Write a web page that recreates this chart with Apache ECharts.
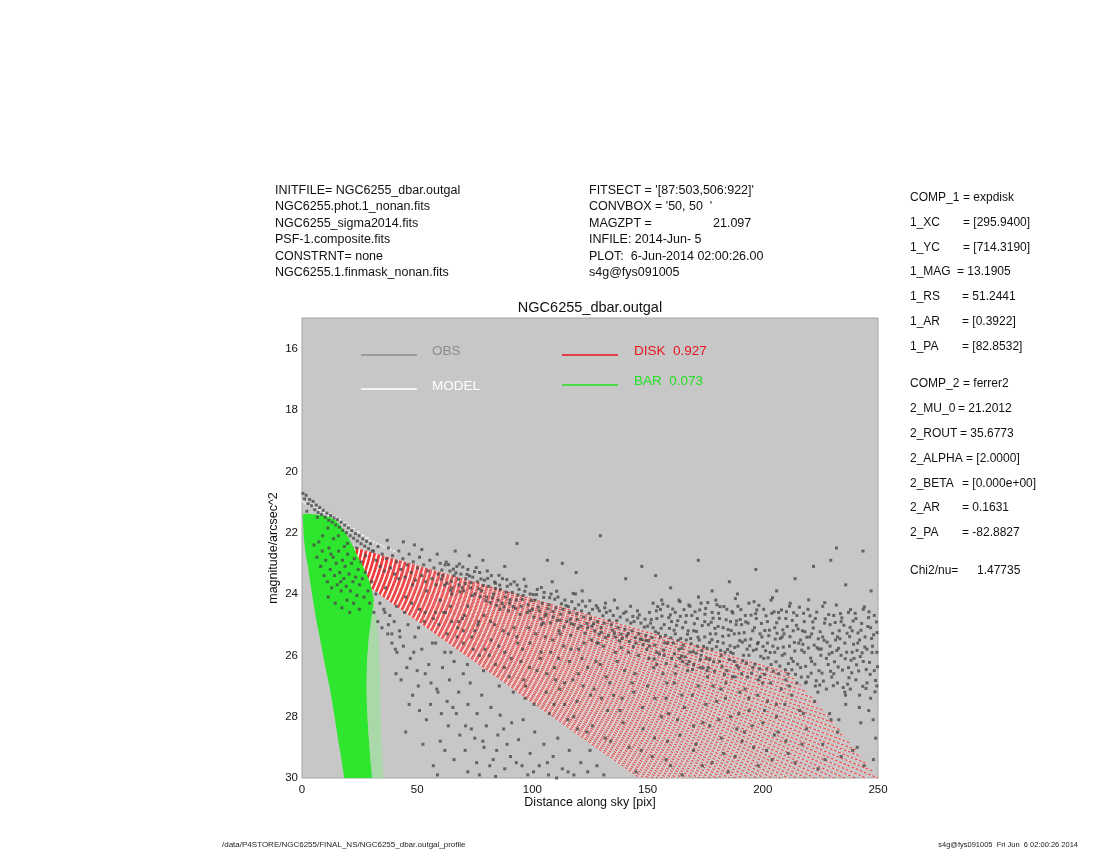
<!DOCTYPE html>
<html><head><meta charset="utf-8">
<script src="https://cdn.jsdelivr.net/npm/echarts@6/dist/echarts.min.js"></script>
<style>html,body{margin:0;padding:0;background:#fff}#c{width:1100px;height:850px}</style>
</head><body><div id="c"></div>
<script>
// ---------- tick labels ----------
const xTicks=[0,50,100,150,200,250];
const yTicks=[16,18,20,22,24,26,28,30];

// ---------- header / parameter texts ----------
const headerLeft=["INITFILE= NGC6255_dbar.outgal","NGC6255.phot.1_nonan.fits","NGC6255_sigma2014.fits","PSF-1.composite.fits","CONSTRNT= none","NGC6255.1.finmask_nonan.fits"];
const headerMid=["FITSECT = '[87:503,506:922]'","CONVBOX = '50, 50  '","MAGZPT =","INFILE: 2014-Jun- 5","PLOT:  6-Jun-2014 02:00:26.00","s4g@fys091005"];
const magzpt="21.097";
const paramKeys=["COMP_1","1_XC","1_YC","1_MAG","1_RS","1_AR","1_PA","COMP_2","2_MU_0","2_ROUT","2_ALPHA","2_BETA","2_AR","2_PA","Chi2/nu="];
const paramVals=["= expdisk","= [295.9400]","= [714.3190]","= 13.1905","= 51.2441","= [0.3922]","= [82.8532]","= ferrer2","= 21.2012","= 35.6773","= [2.0000]","= [0.000e+00]","= 0.1631","= -82.8827","1.47735"];
const legendNames=["OBS","MODEL","DISK  0.927","BAR  0.073"];

// ---------- data: observed profile points [distance, mag] ----------
const obs=[
[0.4,20.72],[1.1,20.9],[1.8,20.78],[2.6,21.05],[3.3,20.92],[4.1,21.12],[4.8,20.98],[5.5,21.25],[6.2,21.1],[7.0,21.34],[7.7,21.18],[8.5,21.41],[9.2,21.27],[10.1,21.5],[10.8,21.36],[11.6,21.6],[12.4,21.44],[13.1,21.66],[13.9,21.52],[14.6,21.75],[15.4,21.58],[16.2,21.82],[17.0,21.66],[17.7,21.92],[18.5,21.75],[19.3,22.0],[20.1,21.84],[20.9,22.1],[21.6,21.93],[22.4,22.18],[23.2,22.03],[24.0,22.27],[24.8,22.1],[25.6,22.36],[26.4,22.2],[27.2,22.44],[28.0,22.28],[28.9,22.52],[29.7,22.36],[30.5,22.6],[2.1,21.3],[6.7,21.5],[11.2,21.85],[15.8,22.1],[19.8,22.35],[23.7,22.5],[27.6,22.75],
[5.2,22.4],[6.5,22.8],[7.3,22.3],[8.1,23.1],[8.8,22.6],[9.6,23.4],[10.3,22.9],[11.0,23.6],[11.7,22.5],[12.3,23.2],[12.9,23.8],[13.5,22.8],[14.1,23.4],[14.8,23.0],[15.3,23.7],[15.9,22.6],[16.4,23.3],[17.0,23.9],[17.6,22.9],[18.1,23.5],[18.7,23.1],[19.2,23.75],[19.8,22.7],[20.4,23.35],[21.0,23.9],[21.5,23.0],[22.1,23.6],[22.7,22.85],[23.3,23.45],[23.8,24.05],[24.4,23.2],[25.0,23.7],[25.6,22.95],[26.2,23.5],[26.9,24.1],[27.5,23.3],[11.4,24.1],[14.4,24.3],[17.3,24.45],[20.7,24.6],[9.0,22.1],[13.7,22.2],[16.8,23.6],[19.5,24.2],[22.4,24.3],[24.9,24.5],[12.6,22.7],[18.4,22.45],
[28.6,23.9],[29.4,24.3],[30.3,23.6],[31.2,24.6],[32.0,24.0],[32.9,24.9],[33.8,24.3],[34.7,25.1],[35.5,24.5],[36.3,23.8],[37.2,25.3],[38.1,24.7],[39.0,25.6],[40.0,24.9],[41.2,25.9],[42.3,25.2],
[31.0,22.6],[32.1,22.9],[33.0,22.45],[33.9,23.1],[34.8,22.7],[35.7,23.25],[36.6,22.85],[37.5,22.5],[38.4,23.15],[39.3,22.75],[40.2,23.35],[41.1,22.95],[42.0,22.6],[42.9,23.2],[43.8,22.85],[44.7,23.45],[45.6,23.05],[46.5,22.7],[47.4,23.3],[48.3,22.95],[49.2,23.55],[50.1,23.15],[51.0,22.8],[51.9,23.4],[52.8,23.05],[53.7,23.6],[54.6,23.25],[55.5,22.9],[56.4,23.5],[57.3,23.15],[58.2,23.7],[59.1,23.35],[60.0,23.0],[37.0,22.25],[44.0,22.3],[52.0,22.55],[58.7,22.7],[48.8,22.4],
[61.0,23.4],[62.1,23.05],[63.0,23.65],[64.2,23.25],[65.1,23.8],[66.0,23.4],[67.2,23.1],[68.1,23.7],[69.0,23.35],[70.2,23.9],[71.1,23.5],[72.0,23.2],[73.2,23.8],[74.1,23.45],[75.0,24.0],[76.2,23.6],[77.1,23.3],[78.0,23.9],[79.2,23.55],[80.1,24.1],[81.0,23.75],[82.2,23.4],[83.1,24.0],[84.0,23.65],[85.2,24.2],[86.1,23.85],[87.0,23.5],[88.2,24.1],[89.1,23.75],[90.0,24.3],[91.2,23.95],[92.1,23.6],[93.0,24.2],[94.2,23.85],[95.1,24.4],[96.0,24.05],[97.2,23.75],[98.1,24.35],[99.0,24.0],[100.0,24.5],
[60.7,23.22],[61.9,23.71],[63.6,23.04],[64.8,23.58],[65.7,23.19],[67.9,23.52],[68.6,23.93],[69.8,23.12],[70.9,23.66],[72.7,23.41],[73.8,24.05],[74.9,23.27],[76.8,23.83],[77.7,23.51],[79.8,24.22],[80.6,23.49],[81.7,24.28],[83.6,23.61],[84.5,24.37],[85.8,23.71],[87.6,24.42],[88.7,23.94],[89.7,24.55],[90.6,23.68],[92.7,24.47],[93.8,24.03],[94.6,24.66],[96.7,23.91],[97.8,24.61],[99.6,24.21],
[60.4,23.51],[62.6,22.96],[64.5,23.88],[66.8,23.31],[68.3,23.02],[69.5,23.79],[71.6,23.36],[73.4,23.63],[75.6,23.14],[77.4,24.09],[78.7,23.72],[80.4,23.25],[82.6,24.12],[83.9,23.82],[85.5,23.39],[86.9,24.31],[88.9,23.53],[90.3,24.19],[91.6,24.41],[93.4,23.71],[95.6,24.18],[96.4,23.52],[98.7,24.55],
[66.5,22.6],[78.5,22.9],[93.3,22.35],[88.0,23.1],[72.6,22.75],
[101.2,24.2],[102.1,23.85],[103.0,24.55],[104.2,24.3],[105.1,23.95],[106.0,24.65],[107.2,24.35],[108.1,24.0],[109.0,24.75],[110.2,24.45],[111.1,24.1],[112.0,24.85],[113.2,24.5],[114.1,24.2],[115.0,24.9],[116.2,24.6],[117.1,24.25],[118.0,25.0],[119.2,24.65],[120.1,24.35],[121.0,25.05],[122.2,24.75],[123.1,24.4],[124.0,25.1],[125.2,24.8],[126.1,24.5],[127.0,25.2],[128.2,24.9],[129.1,24.55],[130.0,25.25],[131.2,24.95],[132.1,24.6],[133.0,25.35],[134.2,25.0],[135.1,24.7],[136.0,25.4],[137.2,25.1],[138.1,24.75],[139.0,25.45],[140.2,25.15],[141.1,24.85],[142.0,25.55],[143.2,25.2],[144.1,24.9],[145.0,25.6],[146.2,25.3],[147.1,24.95],[148.0,25.65],[149.2,25.35],[150.0,25.05],
[100.6,24.75],[101.8,24.02],[103.6,24.81],[104.9,24.11],[106.7,24.48],[107.8,24.94],[109.7,24.17],[110.8,24.86],[112.6,24.32],[113.7,25.07],[115.6,24.41],[116.9,24.97],[118.5,24.48],[119.8,25.12],[121.7,24.23],[122.8,25.28],[124.6,24.63],[125.8,25.05],[127.7,24.38],[128.9,25.31],[130.6,24.71],[131.8,25.42],[133.7,24.55],[134.8,25.18],[136.6,24.87],[137.8,25.53],[139.6,24.63],[140.9,25.36],[142.7,24.95],[143.8,25.72],[145.7,24.78],[146.8,25.47],[148.6,25.08],[149.7,25.81],
[100.4,24.02],[102.6,24.43],[103.9,23.79],[105.6,24.71],[107.5,24.12],[108.9,24.57],[110.5,23.91],[112.3,24.66],[114.6,24.38],[116.4,24.82],[117.7,23.98],[119.5,24.83],[121.3,24.55],[123.6,24.96],[124.9,24.22],[126.6,24.97],[128.4,24.46],[129.8,25.09],[131.4,24.45],[133.4,24.86],[135.6,25.28],[136.9,24.46],[138.4,25.31],[140.6,24.58],[141.6,25.29],[143.6,24.73],[144.6,25.42],[146.4,24.68],[147.6,25.49],[148.9,24.82],[149.4,25.52],
[104.8,24.95],[111.6,25.2],[118.7,24.0],[125.6,25.5],[131.7,24.3],[138.6,25.75],[145.6,24.55],[108.6,23.6],[121.6,23.9],[135.6,24.2],[142.6,24.4],[116.6,25.35],[128.6,25.6],
[106.5,22.9],[119,23.3],[129.5,22.1],[140.5,23.5],[147.5,23.1],[113,23.0],
[150.8,24.6],[150.8,25.7],[152.4,25.1],[152.4,24.3],[154.0,25.9],[154.0,24.8],[155.6,24.5],[155.6,25.4],[157.2,26.0],[157.2,25.0],[158.8,24.4],[158.8,25.6],[160.4,24.9],[160.4,26.1],[162.0,25.3],[162.0,24.6],[163.6,25.8],[163.6,24.2],[165.2,26.2],[165.2,25.1],[166.8,24.7],[166.8,25.5],[168.4,25.9],[168.4,24.4],[170.0,25.2],[170.0,26.3],[171.6,24.8],[171.6,25.7],[173.2,24.3],[173.2,26.0],[174.8,25.4],[174.8,24.9],[176.4,26.4],[176.4,25.0],[178.0,24.6],[178.0,25.8],[179.6,25.3],[179.6,24.2],[181.2,26.2],[181.2,24.8],[182.8,25.6],[182.8,25.1],[184.4,24.5],[184.4,26.5],[186.0,25.9],[186.0,24.9],[187.6,25.3],[187.6,26.2],[189.2,24.4],[189.2,25.7],[190.8,26.6],[190.8,25.0],[192.4,24.7],[192.4,25.5],[194.0,26.0],[194.0,24.3],[195.6,25.2],[195.6,26.4],[197.2,24.8],[197.2,25.8],[198.8,26.7],[198.8,25.3],[200.4,24.5],[200.4,26.1],[202.0,25.6],[202.0,24.9],[203.6,26.3],[203.6,24.2],[205.2,25.1],[205.2,25.9],[206.8,26.6],[206.8,24.6],[208.4,25.4],[208.4,26.0],[210.0,24.8],[210.0,26.8],[211.6,25.7],[211.6,24.4],[213.2,26.2],[213.2,25.2],[214.8,24.7],[214.8,26.9],[216.4,25.5],[216.4,26.4],[218.0,24.9],[218.0,25.9],[219.6,26.7],[219.6,24.5],[221.2,25.3],[221.2,26.2],[222.8,24.8],[222.8,27.0],[224.4,25.8],[224.4,26.5],[226.0,24.4],[226.0,25.4],[227.6,26.1],[227.6,27.1],[229.2,25.0],[229.2,25.7],[230.8,26.6],[230.8,24.7],[232.4,25.4],[232.4,26.9],[234.0,24.9],[234.0,26.0],[235.6,27.2],[235.6,25.6],[237.2,24.6],[237.2,26.4],[238.8,25.9],[238.8,25.2],[240.4,26.8],[240.4,24.8],[242.0,25.5],[242.0,27.3],[243.6,24.5],[243.6,26.2],[245.2,25.8],[245.2,26.9],[246.8,27.4],[246.8,25.1],[248.4,24.7],[248.4,26.5],[249.5,25.9],[249.5,27.0],
[161.2,25.6],[167.6,25.2],[172.4,25.5],[177.2,25.3],[183.6,25.9],[188.4,25.0],[193.2,25.8],[199.6,25.4],[204.4,25.7],[209.2,25.3],[215.6,25.6],[220.4,25.4],[225.2,26.0],[231.6,25.5],[236.4,25.9],[241.2,25.6],[247.6,25.7],
[164.4,25.45],[169.2,24.7],[175.6,26.1],[180.4,25.55],[185.2,25.35],[191.6,26.0],[196.4,25.1],[201.2,25.85],[207.6,25.45],[212.4,26.1],[217.2,25.2],[223.6,25.75],[228.4,26.3],[233.2,25.2],[239.6,26.1],[244.4,25.4],
[151.3,24.95],[151.9,25.42],[153.1,25.67],[153.8,24.55],[154.7,25.28],[156.2,24.72],[156.9,25.83],[157.8,25.35],[159.5,25.12],[159.9,24.68],[161.7,25.95],[162.6,25.02],[163.1,24.87],[164.9,25.77],[165.8,24.51],[166.2,26.05],[167.3,25.31],[168.9,25.62],[169.7,25.88],[170.6,24.58],[171.2,25.22],[172.9,26.14],[173.7,25.03],[174.3,25.71],[175.2,24.47],[176.9,25.58],[177.6,24.92],[178.7,26.21],[179.2,25.12],[180.8,24.63],[181.7,25.84],[182.3,26.37],[183.1,24.41],[184.9,25.16],[185.8,25.69],[186.6,24.57],[187.1,25.94],[188.8,26.33],[189.7,25.28],[190.2,24.83],[191.1,25.57],[192.9,26.26],[193.6,24.95],[194.8,25.47],[195.1,26.58],[196.9,24.64],[197.7,25.62],[198.3,24.37],[199.1,26.03],[200.9,25.19],[201.7,26.44],[202.6,25.36],[203.2,25.91],[204.9,24.58],[205.7,26.21],[206.2,25.28],[207.1,24.79],[208.9,25.73],[209.8,26.47],[210.6,25.06],[211.1,26.27],[212.8,24.86],[213.7,25.58],[214.2,26.62],[215.3,25.14],[216.9,25.83],[217.7,24.63],[218.6,26.36],[219.1,25.41],[220.8,26.09],[221.7,24.91],[222.3,25.67],[223.2,26.83],[224.9,25.23],[225.7,26.58],[226.6,25.51],[227.1,24.81],[228.8,25.96],[229.9,26.71],[230.3,25.28],[231.1,26.21],[232.9,25.77],[233.7,24.64],[234.6,26.48],[235.2,25.02],[236.8,26.94],[237.7,25.39],[238.3,26.16],[239.2,24.88],[240.9,25.84],[241.6,26.51],[242.6,25.18],[243.1,25.92],[244.8,27.08],[245.9,24.77],[246.3,26.23],[247.2,25.45],[248.9,26.82],[249.6,25.26],[244.1,24.42],[238.1,24.51],[231.9,24.36],[226.9,24.28],[219.9,24.19],[211.9,24.3],[204.2,24.12],[196.2,24.25],[188.1,24.15],[180.1,24.35],[172.1,24.1],[164.1,24.25],[156.1,24.2],
[150.3,25.52],[151.6,24.83],[152.9,26.12],[153.4,25.23],[154.4,24.41],[155.1,25.96],[155.9,25.12],[156.6,24.33],[157.5,25.59],[158.1,26.27],[159.2,24.77],[160.1,25.43],[160.9,24.49],[161.5,25.18],[162.3,26.35],[163.3,25.51],[164.2,24.73],[164.7,26.02],[165.5,25.66],[166.5,24.92],[167.1,26.29],[167.9,24.36],[168.7,25.45],[169.5,26.46],[170.3,24.97],[171.0,25.93],[171.9,25.41],[172.6,24.52],[173.5,25.84],[174.1,26.41],[174.9,24.66],[175.8,25.77],[176.1,24.28],[177.0,26.13],[177.9,25.49],[178.4,24.79],[179.0,26.52],[179.9,25.72],[180.6,25.06],[181.4,24.41],[182.0,26.01],[182.6,25.38],[183.4,26.63],[184.1,24.84],[184.7,25.81],[185.5,26.14],[186.3,25.19],[187.0,24.62],[187.8,25.74],[188.6,24.88],[189.4,26.41],[190.0,25.52],[190.5,24.51],[191.3,26.18],[191.9,25.26],[192.6,24.91],[193.4,26.71],[194.3,25.69],[194.9,24.69],[195.9,25.84],[196.6,26.29],[197.4,24.52],[198.0,25.58],[198.6,26.44],[199.4,24.96],[200.1,25.71],[200.7,26.62],[201.4,24.71],[202.3,26.08],[202.9,25.18],[203.9,24.63],[204.6,26.52],[205.4,25.47],[206.0,24.94],[206.5,25.77],[207.4,26.35],[208.1,24.52],[208.7,25.17],[209.5,25.95],[210.3,24.58],[210.9,26.61],[211.8,25.39],[212.6,26.47],[213.4,24.61],[213.9,25.86],[214.6,25.02],[215.1,26.29],[215.9,24.43],[216.7,26.71],[217.4,25.64],[218.3,25.23],[218.9,26.87],[219.8,25.76],[220.5,24.71],[221.0,26.58],[221.9,25.11],[222.6,26.29],[223.4,24.59],[224.1,25.46],[224.7,26.97],[225.4,25.79],[226.3,26.84],[226.8,24.95],[227.9,25.57],[228.6,24.67],[229.4,26.52],[230.1,25.91],[230.6,26.99],[231.4,24.93],[232.1,25.84],[232.7,26.38],[233.5,25.46],[234.3,24.78],[234.9,27.05],[235.8,26.11],[236.6,25.28],[237.4,26.73],[237.9,25.09],[238.6,26.57],[239.4,25.64],[240.1,24.63],[240.7,26.31],[241.3,25.27],[242.3,26.04],[242.9,24.96],[243.4,27.01],[244.3,25.73],[244.9,26.46],[245.6,25.06],[246.1,24.58],[246.6,26.62],[247.4,25.91],[248.1,25.33],[248.7,27.19],[249.3,24.91],[249.8,26.37],
[152.6,26.4],[158.3,26.9],[163.9,26.1],[169.4,27.3],[175.9,26.5],[181.9,27.1],[187.9,26.7],[193.9,27.4],[199.9,26.9],[205.9,27.6],[211.4,27.0],[217.6,27.9],[223.9,27.2],[229.6,28.1],[235.9,27.3],[241.9,27.7],[247.9,28.1],
[153.5,23.4],[160,23.8],[172,22.9],[185.5,23.6],[197,23.2],[206,23.9],[214,23.5],[222,23.1],[229.5,22.9],[236,23.7],[243.5,22.6],[247,23.9],[232,22.5],[189,24.0],[178,23.9],
[212.5,27.3],[216,27.8],[219,28.4],[222.5,27.5],[226,28.9],[229,27.9],[232.5,28.5],[236,27.6],[239,29.1],[242.5,28.2],[246,27.8],[249,28.7],[214,29.5],[224,29.7],[234,29.3],[244,29.6],[218.5,26.9],[238,27.1],
[42,23.5],[45,24.1],[48,23.7],[51,24.5],[54,23.9],[57,24.8],[60,24.2],[63,25.3],[65,24.0],[68,24.9],[70,25.6],[72,24.4],[75,25.2],[77,26.0],[79,24.7],[82,25.5],[84,26.3],[86,24.5],[88,25.9],[90,26.7],[92,25.1],[95,26.2],[97,27.0],[99,25.6],[102,26.5],[104,25.0],[106,27.2],[108,25.9],[110,26.8],[112,25.3],[114,27.6],[116,26.2],[118,28.0],[120,25.8],[122,27.0],[124,26.4],[126,28.3],[128,25.6],[130,27.4],[132,26.7],[134,28.8],[136,25.9],[138,27.8],[140,26.5],[142,29.0],[144,27.2],[146,26.0],[148,28.4],[150,27.0],[152,29.3],[154,26.3],[156,28.0],[158,27.4],[160,29.6],[162,26.6],[164,28.6],[166,27.7],[168,26.2],[170,29.1],[172,27.0],[174,28.2],[176,26.7],[178,29.5],[180,27.5],[182,28.7],[184,26.9],[186,28.0],[188,29.3],[190,27.2],[192,28.5],[194,27.8],[196,29.0],[198,26.8],[200,28.2],[202,27.5],[204,29.4],[206,28.0],[208,27.1],[210,28.8],[185,29.8],[165,29.9],[145,29.8],[125,29.1],
[44.5,24.6],[47.6,24.3],[50.6,25.1],[53.4,24.6],[56.6,25.6],[59.4,25.0],[62.3,24.6],[64.6,25.9],[67.3,25.4],[69.6,24.8],[71.8,26.3],[74.3,25.8],[76.6,24.9],[78.8,26.5],[81.3,26.0],[83.7,25.0],[85.6,27.0],[87.8,26.4],[89.5,25.3],[91.7,27.2],[93.6,25.6],[96.3,26.8],[98.4,25.1],[100.7,27.6],[103.4,26.1],[105.6,25.4],[107.4,27.9],[109.6,26.4],[111.8,27.1],[113.6,25.7],[115.4,28.1],[117.6,26.8],[119.4,27.5],[121.5,26.1],[123.7,28.5],[126.8,27.1],[129.5,26.3],[131.6,28.7],[135.2,27.3],[139.4,28.2],[143.3,26.9],[147.2,29.1],
[61.5,24.6],[64.4,24.4],[67.6,25.1],[70.6,24.7],[73.6,25.4],[76.3,25.0],[79.4,25.8],[81.9,24.9],[85.4,25.7],[87.3,25.2],[90.8,26.1],[93.2,25.4],[95.8,25.8],[98.8,26.4],[101.4,25.3],[103.8,25.9],[106.3,26.6],[108.8,25.5],[111.4,26.1],[113.9,26.9],[116.8,25.8],[119.9,26.6],[122.5,25.6],[125.3,27.3],[127.6,26.2],[130.8,25.7],[133.6,26.9],[136.8,26.2],[138.9,27.4],[141.7,25.9],[144.6,26.6],[147.7,27.7],[150.6,26.1],[153.2,27.4],[156.7,26.6],[159.1,27.9],[161.6,26.9],[164.8,27.3],[167.4,26.5],[169.9,28.3],[172.8,26.4],[175.3,27.6],[178.4,27.0],[180.9,28.1],[183.8,27.4],[186.8,26.7],[189.6,27.9],[192.3,27.1],[195.3,28.3],[197.8,27.3],[200.8,27.8],[203.4,26.9],[206.6,28.5],[209.6,27.6],[158.7,28.8],[173.8,29.6],[188.7,28.4],[201.6,29.1],[132.7,27.8],[119.6,28.4],[109.4,27.6],[96.8,27.4],
[153,28.7],[158,29.4],[163,28.1],[171,28.9],[177,28.3],[183,29.2],[191,28.8],[198,29.6],[205,28.6],[211,29.2],[217,28.9],[227,29.4],[233,28.1],[241,29.0],[248,29.4],
[36,24.6],[39,25.3],[41,24.4],[44,25.7],[46,25.0],[47,26.1],[49,25.4],[50,26.5],[52,25.8],[53,24.9],[55,26.3],[56,26.9],[58,25.6],[59,27.2],[61,26.4],[62,25.9],[63,27.5],[64,26.8],[66,26.2],[67,27.9],[68,27.2],[70,26.6],[71,28.3],[72,27.6],[73,26.9],[75,28.7],[76,27.9],[78,27.3],[79,29.0],[80,28.3],[82,27.7],[83,29.4],[85,28.6],[86,27.95],[88,29.7],[89,28.9],[91,28.2],[93,29.5],[94,28.75],[96,28.1],[98,29.9],[99,29.2],[101,28.5],[103,29.6],[105,28.9],[107,29.9],[109,29.3],[111,28.7],[113,29.7],[116,29.1],[118,29.9],[121,29.5],[124,29.8],[128,29.6],[131,29.9],[48,27.3],[54,28.1],[60,28.8],[66,29.4],[72,29.8],[57,29.6],[43,26.8],[51,27.8],[62,29.1],[77,29.9],[84,29.95],[45,28.5],[70,25.2],[65,24.9],[58,24.6],
[37.5,25.0],[40.5,25.8],[42.5,25.4],[45.5,26.4],[48.5,25.9],[50.5,27.0],[53.5,26.6],[55.8,27.6],[58.5,27.1],[60.5,27.9],[63.5,28.3],[65.5,27.7],[68.5,28.6],[70.8,29.1],[73.5,28.4],[75.8,29.5],[78.5,28.8],[81.5,29.6],[84.5,29.1],[87.5,28.4],[90.5,29.3],[95.5,29.6],[100.5,29.8],[106.5,29.5],[110.5,30.0],[115.5,29.8],[52.5,28.9],[46.5,27.6],[58.8,29.9],[40.8,26.6]
];

// ---------- model points near the centre [distance, mag] ----------
const modelCore=[[0.5,20.98],[1.5,21.05],[2.5,21.0],[3.5,21.12],[4.5,21.08],[5.5,21.2],[6.5,21.15],[7.5,21.28],[8.5,21.24],[9.5,21.36],[10.5,21.32],[11.5,21.45],[12.5,21.4],[13.5,21.52],[14.5,21.5],[15.5,21.62],[16.5,21.58],[17.5,21.7],[18.5,21.68],[19.5,21.8],[20.5,21.78],[21.5,21.9],[22.5,21.88],[23.5,22.0],[24.5,21.98],[25.5,22.1],[26.5,22.08],[27.5,22.18],[28.5,22.17],[29.5,22.26],[31,22.3],[32.5,22.36],[34,22.4],[35.5,22.46],[37,22.5],[38.5,22.55],[40,22.6],[41.5,22.64]];

// ---------- disk component profile tracks [r0, mag0, r1, mag1] ----------
const diskTracks=[
[4,22.087,212.0,26.60],[4,22.093,214.4,26.79],[4,22.100,216.7,26.98],[4,22.107,219.1,27.18],[4,22.114,221.5,27.38],[4,22.120,223.8,27.58],[4,22.127,226.2,27.79],[4,22.133,228.6,27.99],[4,22.141,230.9,28.20],[4,22.147,233.3,28.42],
[4,22.154,235.6,28.63],[4,22.160,238.0,28.86],[4,22.167,240.4,29.08],[4,22.174,242.7,29.30],[4,22.181,245.1,29.53],[4,22.187,247.5,29.77],[4,22.194,249.9,30.0],[4,22.201,244.9,30.0],[4,22.208,240.1,30.0],[4,22.215,235.5,30.0],
[4,22.221,231.1,30.0],[4,22.228,226.8,30.0],[4,22.234,222.6,30.0],[4,22.242,218.7,30.0],[4,22.248,214.8,30.0],[4,22.255,211.1,30.0],[4,22.261,207.5,30.0],[4,22.268,204.0,30.0],[4,22.275,200.7,30.0],[4,22.282,197.4,30.0],
[4,22.288,194.2,30.0],[4,22.295,191.2,30.0],[4,22.301,188.2,30.0],[4,22.309,185.3,30.0],[4,22.315,182.5,30.0],[4,22.322,179.8,30.0],[4,22.328,177.1,30.0],[4,22.335,174.6,30.0],[4,22.342,172.1,30.0],[4,22.349,169.6,30.0],
[4,22.355,167.3,30.0],[4,22.362,165.0,30.0],[4,22.368,162.7,30.0],[4,22.376,160.6,30.0],[4,22.382,158.4,30.0],[4,22.389,156.3,30.0],[4,22.395,154.3,30.0],[4,22.402,152.3,30.0],[4,22.409,150.4,30.0],[4,22.416,148.5,30.0],[4,22.422,146.7,30.0]
];
// total model equals the disk outside the bar region
const modelTracks=diskTracks;

// ---------- bar component envelope [distance, mag] ----------
const barEnvelope=[[0.3,21.4],[0.8,22.2],[1.6,22.7],[2.6,23.12],[3.6,23.65],[4.8,24.2],[6.2,24.85],[7.9,25.5],[9.9,26.3],[12.0,27.05],[13.7,27.8],[15.3,28.57],[17.0,29.35],[18.5,30.1],
[30.5,30.1],[29.6,29.3],[28.8,28.5],[28.2,27.7],[28.0,27.0],[28.2,26.2],[29.0,25.4],[30.5,24.6],[31.2,24.2],[30.0,23.75],[28.6,23.45],[26.5,23.1],[24.3,22.79],[22.2,22.45],[20.0,22.14],[17.5,21.85],[15.0,21.62],[12.5,21.5],[9.0,21.43],[5.0,21.4],[2.0,21.38]];
const barFringe=[[31.2,24.2],[32.5,24.8],[33.3,25.6],[33.8,26.5],[34.0,27.5],[34.3,28.5],[34.8,29.3],[35.3,30.1],[30.5,30.1],[29.6,29.3],[28.8,28.5],[28.2,27.7],[28.0,27.0],[28.2,26.2],[29.0,25.4],[30.5,24.6]];

// ---------- chart ----------
const FONT="'Liberation Sans', Arial, Helvetica, sans-serif";
const chart=echarts.init(document.getElementById('c'),null,{renderer:'canvas'});

function polySeries(pts,fill,opacity){
  return {type:'custom',coordinateSystem:'cartesian2d',silent:true,clip:true,data:[[pts[0][0],pts[0][1]]],
    renderItem:function(params,api){
      return {type:'polygon',shape:{points:pts.map(p=>api.coord(p))},style:{fill:fill,opacity:opacity}};
    }};
}
function trackSeries(tracks,lineStyle){
  return {type:'lines',coordinateSystem:'cartesian2d',silent:true,
    data:tracks.map(t=>({coords:[[t[0],t[1]],[t[2],t[3]]]})),
    lineStyle:lineStyle};
}

const graphics=[];
headerLeft.forEach((s,i)=>graphics.push({type:'text',left:275,top:184+i*16.4,style:{text:s,font:'12.5px '+FONT,fill:'#111'}}));
headerMid.forEach((s,i)=>graphics.push({type:'text',left:589,top:184+i*16.4,style:{text:s,font:'12.5px '+FONT,fill:'#111'}}));
graphics.push({type:'text',left:713,top:184+2*16.4,style:{text:magzpt,font:'12.5px '+FONT,fill:'#111'}});
const rowY=[199,224,249,273,298,323,348,385,410,435,460,485,509,534,572];
const valX=[963,963,963,957,962,962,962,963,958,960,966,962,962,962,977];
paramKeys.forEach((s,i)=>{
  graphics.push({type:'text',left:910,top:rowY[i]-7,style:{text:s,font:'12px '+FONT,fill:'#111'}});
  graphics.push({type:'text',left:valX[i],top:rowY[i]-7,style:{text:paramVals[i],font:'12px '+FONT,fill:'#111'}});
});
graphics.push({type:'text',x:590,y:308,style:{text:'NGC6255_dbar.outgal',font:'14.5px '+FONT,fill:'#111',align:'center',verticalAlign:'middle'}});
const legColors=['#8c8c8c','#ffffff','#e8141e','#22e022'];
const legLineX=[361,361,562,562], legLineY=[355,389,355,385], legTextX=[432,432,634,634], legTextY=[351,386,351,381];
legendNames.forEach((s,i)=>{
  graphics.push({type:'line',shape:{x1:legLineX[i],y1:legLineY[i],x2:legLineX[i]+56,y2:legLineY[i]},style:{stroke:legColors[i],lineWidth:1.6},z:100});
  graphics.push({type:'text',x:legTextX[i],y:legTextY[i],style:{text:s,font:'13.5px '+FONT,fill:legColors[i],verticalAlign:'middle'},z:100});
});
graphics.push({type:'text',x:222,y:845,style:{text:'/data/P4STORE/NGC6255/FINAL_NS/NGC6255_dbar.outgal_profile',font:'8px '+FONT,fill:'#222',verticalAlign:'middle'}});
graphics.push({type:'text',x:1078,y:845,style:{text:'s4g@fys091005  Fri Jun  6 02:00:26 2014',font:'7.5px '+FONT,fill:'#222',align:'right',verticalAlign:'middle'}});

chart.setOption({
  animation:false,
  backgroundColor:'#ffffff',
  grid:{left:302,top:318,width:576,height:460,show:true,backgroundColor:'#c7c7c7',borderColor:'#a4a4a4',borderWidth:1},
  xAxis:{type:'value',min:0,max:250,
    axisLine:{show:false},axisTick:{show:false},splitLine:{show:false},
    axisLabel:{customValues:xTicks,color:'#111',fontSize:11.5,fontFamily:FONT,margin:6},
    name:'Distance along sky [pix]',nameLocation:'middle',nameGap:18,nameMoveOverlap:false,
    nameTextStyle:{color:'#111',fontSize:12.5,fontFamily:FONT}},
  yAxis:{type:'value',min:15,max:30,inverse:true,
    axisLine:{show:false},axisTick:{show:false},splitLine:{show:false},
    axisLabel:{customValues:yTicks,color:'#111',fontSize:11.5,fontFamily:FONT,margin:4},
    name:'magnitude/arcsec^2',nameLocation:'middle',nameGap:22,nameRotate:90,nameMoveOverlap:false,
    nameTextStyle:{color:'#111',fontSize:12.5,fontFamily:FONT}},
  series:[
    trackSeries(diskTracks,{color:'#ff1414',width:1,opacity:0.78}),
    trackSeries(modelTracks,{color:'#ffffff',width:1.4,opacity:0.85,type:[1.5,3]}),
    polySeries(barEnvelope,'#2ee62e',1),
    polySeries(barFringe,'#8fe88f',0.55),
    {type:'scatter',silent:true,data:modelCore,symbol:'rect',symbolSize:2.2,itemStyle:{color:'#f4f4f4'}},
    {type:'scatter',silent:true,data:obs,symbol:'rect',symbolSize:3,itemStyle:{color:'#4a4a4a'}}
  ],
  graphic:graphics
});
</script></body></html>
